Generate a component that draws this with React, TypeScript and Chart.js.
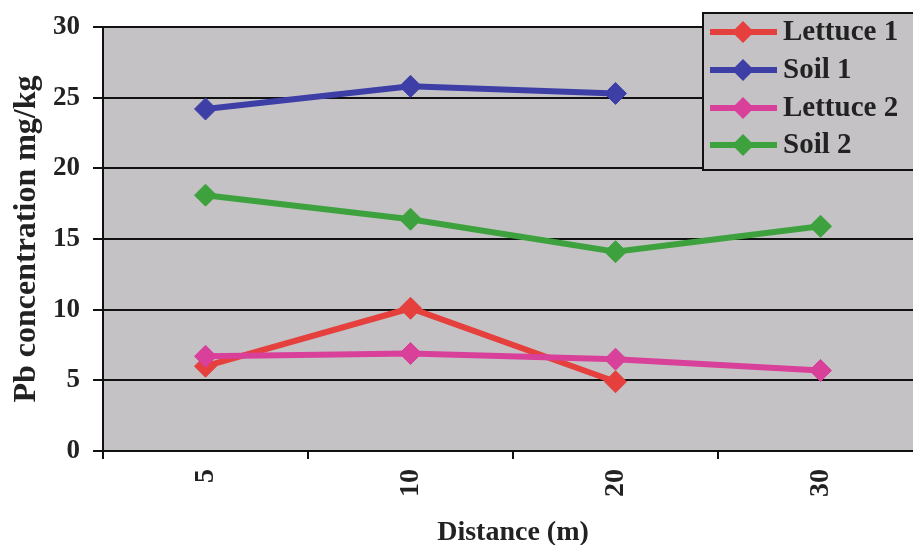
import React, { useEffect, useRef } from "react";
import { Chart, registerables } from "chart.js";

Chart.register(...registerables);

const categories = ["5", "10", "20", "30"];
const lettuce1 = [6.0, 10.1, 4.9, null];
const soil1 = [24.2, 25.8, 25.3, null];
const lettuce2 = [6.7, 6.9, 6.5, 5.7];
const soil2 = [18.1, 16.4, 14.1, 15.9];
const seriesNames = ["Lettuce 1", "Soil 1", "Lettuce 2", "Soil 2"];
const seriesColors = ["#e5403d", "#3e3fa6", "#d8409a", "#3da23d"];
const yTitle = "Pb concentration mg/kg";
const xTitle = "Distance (m)";

const FONT = "'Liberation Serif', 'Times New Roman', serif";
const PLOT_BG = "#c4c2c5";

const plotBg = {
  id: "plotBg",
  beforeDraw(chart: any) {
    const { ctx, chartArea } = chart;
    ctx.save();
    ctx.fillStyle = PLOT_BG;
    ctx.fillRect(chartArea.left, chartArea.top, chartArea.right - chartArea.left, chartArea.bottom - chartArea.top);
    ctx.restore();
  },
};

const boxLegend = {
  id: "boxLegend",
  afterDraw(chart: any) {
    const { ctx } = chart;
    const x0 = 703;
    const y0 = 13;
    const h = 157;
    ctx.save();
    ctx.fillStyle = PLOT_BG;
    ctx.fillRect(x0, y0, 300, h);
    ctx.strokeStyle = "#111";
    ctx.lineWidth = 2;
    ctx.strokeRect(x0, y0, 300, h);
    const rows = [32, 70, 108, 145];
    chart.data.datasets.forEach((ds: any, i: number) => {
      const y = rows[i];
      ctx.strokeStyle = ds.borderColor;
      ctx.lineWidth = 6;
      ctx.beginPath();
      ctx.moveTo(710, y);
      ctx.lineTo(777, y);
      ctx.stroke();
      ctx.fillStyle = ds.borderColor;
      ctx.beginPath();
      ctx.moveTo(743, y - 11);
      ctx.lineTo(754, y);
      ctx.lineTo(743, y + 11);
      ctx.lineTo(732, y);
      ctx.closePath();
      ctx.fill();
      ctx.fillStyle = "#222";
      ctx.font = `bold 29px ${FONT}`;
      ctx.textBaseline = "middle";
      ctx.textAlign = "left";
      ctx.fillText(ds.label, 783, y + 1);
    });
    ctx.restore();
  },
};

export default function App() {
  const ref = useRef<HTMLCanvasElement>(null);
  useEffect(() => {
    if (!ref.current) return;
    const data = [lettuce1, soil1, lettuce2, soil2];
    const chart = new Chart(ref.current, {
      type: "line",
      data: {
        labels: categories,
        datasets: data.map((d, i) => ({
          label: seriesNames[i],
          data: d,
          borderColor: seriesColors[i],
          backgroundColor: seriesColors[i],
          borderWidth: 6,
          pointStyle: "rectRot",
          pointRadius: 11,
          pointBorderWidth: 1,
          pointBackgroundColor: seriesColors[i],
          pointBorderColor: seriesColors[i],
          spanGaps: false,
          order: 4 - i,
          tension: 0,
        })),
      },
      options: {
        animation: false,
        responsive: false,
        layout: { padding: { top: 27, left: 0, right: 0, bottom: 0 } },
        plugins: { legend: { display: false }, tooltip: { enabled: false } },
        scales: {
          x: {
            offset: true,
            afterFit: (s: any) => { s.height = 94; },
            grid: { display: true, drawOnChartArea: false, offset: true, color: "#111", lineWidth: 2, tickLength: 8 },
            border: { display: true, color: "#111", width: 2 },
            ticks: {
              minRotation: 90,
              maxRotation: 90,
              padding: 10,
              color: "#222",
              font: { family: FONT, size: 28, weight: "bold" },
            },
            title: {
              display: true,
              text: xTitle,
              color: "#222",
              font: { family: FONT, size: 28, weight: "bold" },
              padding: { top: 0, bottom: -5 },
            },
          },
          y: {
            min: 0,
            max: 30,
            afterFit: (s: any) => { s.width = 103; s.paddingTop = 0; s.paddingBottom = 0; },
            grid: { color: "#111", lineWidth: 2, tickLength: 10 },
            border: { display: true, color: "#111", width: 2 },
            ticks: {
              stepSize: 5,
              padding: 13,
              color: "#222",
              font: { family: FONT, size: 27, weight: "bold" },
            },
            title: {
              display: true,
              text: yTitle,
              color: "#222",
              font: { family: FONT, size: 32, weight: "bold" },
              padding: { top: 8, bottom: 0 },
            },
          },
        },
      },
      plugins: [plotBg, boxLegend],
    } as any);
    return () => chart.destroy();
  }, []);
  return (
    <div style={{ position: "absolute", left: 0, top: 0, width: 913, height: 545, overflow: "hidden", background: "#fff" }}>
      <canvas ref={ref} width={935} height={545} style={{ display: "block" }} />
    </div>
  );
}
